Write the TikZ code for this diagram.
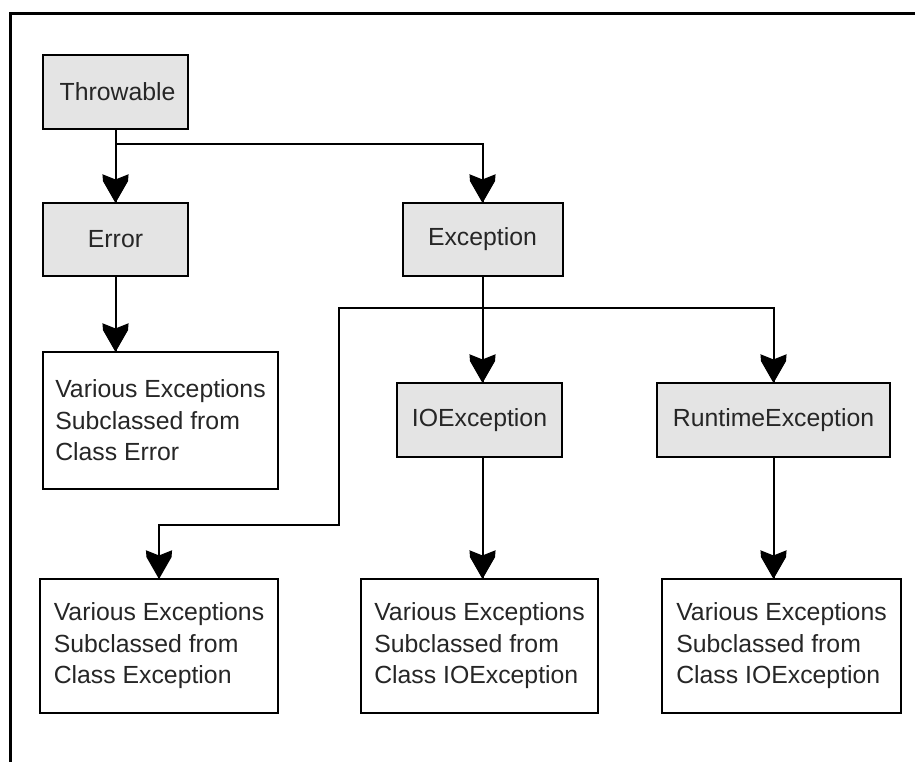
\documentclass[tikz,border=0pt]{standalone}
\usepackage{fontspec}
\setmainfont{Liberation Sans}
\usetikzlibrary{calc}
\definecolor{boxgray}{HTML}{E4E4E4}
\definecolor{inkgray}{HTML}{262626}
\begin{document}
\begin{tikzpicture}[x=1pt,y=-1pt,
  base/.style={draw=black, line width=2pt, text=inkgray, inner sep=0pt,
    font=\fontsize{24.8}{31.5}\selectfont},
  cls/.style={base, fill=boxgray},
  sub/.style={base, fill=white, align=left},
  link/.style={draw=black, line width=2pt},
  % solid downward arrowhead with a shallow notch, tip at the origin
  head/.pic={\filldraw[black, line width=1pt, line join=miter]
    (0,0) -- (-12,-21) -- (-12.5,-27) -- (0,-22) -- (12.5,-27) -- (12,-21) -- cycle;}
]
\useasboundingbox (0,0) rectangle (915,762);
% outer frame (left and top edges)
\draw[line width=3pt] (10.5,762) -- (10.5,13.5) -- (915,13.5);

% class boxes
\node[cls, minimum width=145pt, minimum height=74pt] (thr) at (115.5,92) {\hspace*{4pt}Throwable};
\node[cls, minimum width=145pt, minimum height=73pt] (err) at (115.5,239.5) {Error};
\node[cls, minimum width=160pt, minimum height=73pt] (exc) at (482.5,239.5) {Exception};
\node[cls, minimum width=165pt, minimum height=74pt] (ioe) at (479.5,420) {IOException};
\node[cls, minimum width=233pt, minimum height=74pt] (rte) at (773.5,420) {RuntimeException};

% subclass groups
\node[sub, minimum width=235pt, minimum height=137pt] (errsub) at (160.5,420.5)
  {Various Exceptions\\Subclassed from\\Class Error};
\node[sub, minimum width=238pt, minimum height=134pt] (excsub) at (159,646)
  {Various Exceptions\\Subclassed from\\Class Exception};
\node[sub, minimum width=237pt, minimum height=134pt] (iosub) at (479.5,646)
  {Various Exceptions\\Subclassed from\\Class IOException};
\node[sub, minimum width=239pt, minimum height=134pt] (rtsub) at (781.5,646)
  {Various Exceptions\\Subclassed from\\Class IOException};

% routing points
\coordinate (tsplit) at ($(thr.south)+(0,14)$);
\coordinate (esplit) at ($(exc.south)+(0,31)$);
\coordinate (ebend) at (339,525);

% arrow ends on the target boxes
\coordinate (toerr) at (err.north);
\coordinate (toexc) at (exc.north);
\coordinate (toerrsub) at (err.south |- errsub.north);
\coordinate (toioe) at (exc.south |- ioe.north);
\coordinate (torte) at (rte.north);
\coordinate (toexcsub) at (excsub.north);
\coordinate (toiosub) at (exc.south |- iosub.north);
\coordinate (tortsub) at (rte.south |- rtsub.north);

% connectors
\draw[link] (thr.south) -- (toerr);
\draw[link] (tsplit) -| (toexc);
\draw[link] (err.south) -- (toerrsub);
\draw[link] (exc.south) -- (toioe);
\draw[link] (esplit) -| (torte);
\draw[link] (esplit) -| (ebend) -| (toexcsub);
\draw[link] (exc.south |- ioe.south) -- (toiosub);
\draw[link] (rte.south) -- (tortsub);

% arrowheads
\foreach \t in {toerr,toexc,toerrsub,toioe,torte,toexcsub,toiosub,tortsub}
  \pic at (\t) {head};
\end{tikzpicture}
\end{document}
